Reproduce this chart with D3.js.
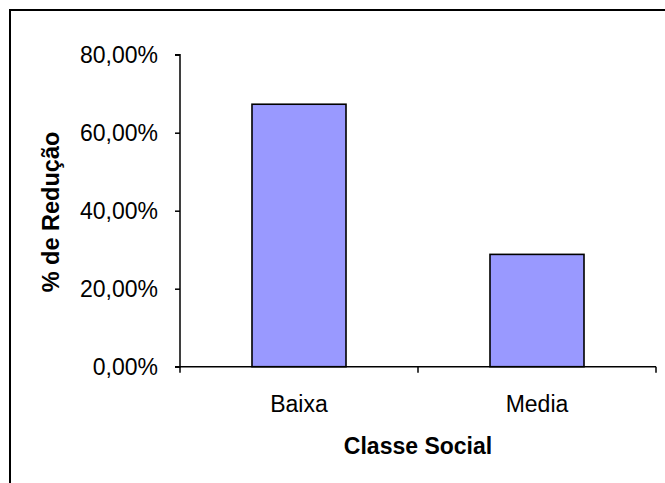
<!DOCTYPE html>
<html><head><meta charset="utf-8">
<script src="https://cdn.jsdelivr.net/npm/d3@7"></script>
<style>body{margin:0;background:#fff}svg{display:block}</style>
</head><body>
<svg id="c" width="665" height="483"></svg>
<script>
const categories = ["Baixa", "Media"];
const values = [0.673, 0.288];
const yTicks = [0, 0.2, 0.4, 0.6, 0.8];
const yTickLabels = ["0,00%", "20,00%", "40,00%", "60,00%", "80,00%"];
const xTitle = "Classe Social";
const yTitle = "% de Redução";

const svg = d3.select("#c");
const font = "'Liberation Sans', Arial, sans-serif";

// outer border (top & left visible, right/bottom clipped)
svg.append("rect").attr("x", 10).attr("y", 10).attr("width", 700).attr("height", 500)
  .attr("fill", "none").attr("stroke", "#000").attr("stroke-width", 2);

const x0 = 180, x1 = 656, yTop = 54.7, yBot = 366.7;
const x = d3.scaleBand().domain(categories).range([x0, x1]).paddingInner(0.605).paddingOuter(0.3025);
const y = d3.scaleLinear().domain([0, 0.8]).range([yBot, yTop]);

// bars
svg.selectAll("rect.bar").data(values).enter().append("rect").attr("class", "bar")
  .attr("x", (d, i) => x(categories[i]))
  .attr("y", d => y(d))
  .attr("width", x.bandwidth())
  .attr("height", d => y(0) - y(d))
  .attr("fill", "#9999ff").attr("stroke", "#000").attr("stroke-width", 1.6);

// y axis
const yAxis = d3.axisLeft(y).tickValues(yTicks).tickFormat((d, i) => yTickLabels[i]).tickSize(5).tickPadding(17);
const gy = svg.append("g").attr("transform", `translate(${x0},0)`).call(yAxis);
gy.select(".domain").attr("stroke-width", 1.5).attr("d", `M-5,${yTop}H0V${yBot}H-5`);
gy.selectAll(".tick line").attr("stroke-width", 1.5);
gy.selectAll(".tick text").attr("font-family", font).attr("font-size", 23).attr("fill", "#000").attr("dy", "0.35em");

// x axis
const xPos = d3.scaleLinear().domain([0, 2]).range([x0, x1]);
const gx = svg.append("g").attr("transform", `translate(0,${yBot})`);
gx.append("line").attr("x1", x0).attr("x2", x1).attr("stroke", "#000").attr("stroke-width", 1.5);
gx.selectAll("line.t").data([0, 1, 2]).enter().append("line").attr("class", "t")
  .attr("x1", d => xPos(d)).attr("x2", d => xPos(d)).attr("y1", 0).attr("y2", 6)
  .attr("stroke", "#000").attr("stroke-width", 1.5);
gx.selectAll("text").data(categories).enter().append("text")
  .attr("x", d => x(d) + x.bandwidth() / 2).attr("y", 45)
  .attr("text-anchor", "middle").attr("font-family", font).attr("font-size", 23).text(d => d);

// titles
svg.append("text").attr("x", (x0 + x1) / 2).attr("y", 454).attr("text-anchor", "middle")
  .attr("font-family", font).attr("font-size", 23).attr("font-weight", "bold").text(xTitle);
svg.append("text").attr("transform", `translate(59,212) rotate(-90)`)
  .attr("text-anchor", "middle").attr("font-family", font).attr("font-size", 23.5).attr("font-weight", "bold").text(yTitle);
</script>
</body></html>
